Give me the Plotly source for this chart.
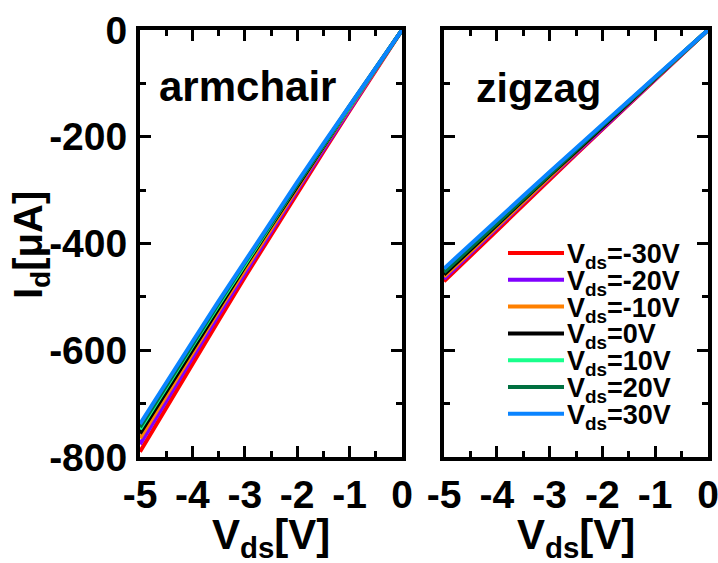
import plotly.graph_objects as go

# ---------------- data ----------------
vds = [-5.0, -4.5, -4.0, -3.5, -3.0, -2.5, -2.0, -1.5, -1.0, -0.5, 0.0]

series_names = ["V<sub>ds</sub>=-30V", "V<sub>ds</sub>=-20V", "V<sub>ds</sub>=-10V",
                "V<sub>ds</sub>=0V", "V<sub>ds</sub>=10V", "V<sub>ds</sub>=20V",
                "V<sub>ds</sub>=30V"]
series_colors = ["#FF0000", "#8000FF", "#FF8000", "#000000", "#19FF8C", "#007040", "#0A84FF"]

# armchair I_d [uA]
arm_m30 = [-790, -707, -625, -544, -463, -384, -305, -228, -151, -75, 0]
arm_m20 = [-776, -694, -614, -534, -455, -377, -300, -224, -148, -74, 0]
arm_m10 = [-765, -685, -605, -526, -449, -372, -296, -220, -146, -73, 0]
arm_0   = [-756, -677, -598, -520, -443, -367, -292, -218, -144, -72, 0]
arm_p10 = [-748, -669, -592, -515, -439, -364, -289, -216, -143, -71, 0]
arm_p20 = [-744, -666, -589, -512, -436, -362, -288, -214, -142, -71, 0]
arm_p30 = [-738, -660, -584, -508, -433, -359, -285, -213, -141, -70, 0]

# zigzag I_d [uA]
zig_m30 = [-471, -423, -375, -327, -280, -233, -186, -139, -93, -46, 0]
zig_m20 = [-466, -418, -371, -324, -277, -231, -184, -138, -92, -46, 0]
zig_m10 = [-462, -415, -368, -321, -274, -229, -182, -137, -91, -45, 0]
zig_0   = [-458, -411, -365, -318, -272, -227, -181, -136, -90, -45, 0]
zig_p10 = [-450, -404, -358, -313, -267, -223, -178, -133, -89, -44, 0]
zig_p20 = [-454, -408, -361, -316, -270, -225, -179, -134, -89, -44, 0]
zig_p30 = [-447, -401, -356, -311, -266, -221, -177, -132, -88, -44, 0]

arm_series = [arm_m30, arm_m20, arm_m10, arm_0, arm_p10, arm_p20, arm_p30]
zig_series = [zig_m30, zig_m20, zig_m10, zig_0, zig_p10, zig_p20, zig_p30]

x_tickvals = [-5, -4, -3, -2, -1, 0]
x_ticktext = ["-5", "-4", "-3", "-2", "-1", "0"]
y_tickvals = [-800, -600, -400, -200, 0]
y_ticktext = ["-800", "-600", "-400", "-200", "0"]

# ---------------- layout constants (pixels) ----------------
W, H = 718, 563
FONT = "Arial, Liberation Sans, sans-serif"
def px(x):
    return x / W
def py(y):
    return 1 - y / H

L1, R1 = 140, 402
L2, R2 = 444, 708
TOP, BOT = 30, 457

fig = go.Figure()
for vals, name, col in zip(arm_series, series_names, series_colors):
    fig.add_trace(go.Scatter(x=vds, y=vals, mode="lines", name=name,
                             line=dict(color=col, width=4), xaxis="x", yaxis="y",
                             showlegend=False))
for vals, name, col in zip(zig_series, series_names, series_colors):
    fig.add_trace(go.Scatter(x=vds, y=vals, mode="lines", name=name,
                             line=dict(color=col, width=4), xaxis="x2", yaxis="y2",
                             showlegend=False))

tickfont = dict(family=FONT, size=39, color="black", weight="bold")
common = dict(showline=True, linewidth=4, linecolor="black", mirror="allticks",
              ticks="inside", ticklen=11, tickwidth=3, tickcolor="black",
              showgrid=False, zeroline=False, tickfont=tickfont, fixedrange=True,
              automargin=False, ticklabeloverflow="allow")

xcommon = dict(common, range=[-5, 0], tickvals=x_tickvals, ticktext=x_ticktext,
               minor=dict(dtick=0.5, tick0=0, ticks="inside", ticklen=6, tickwidth=3,
                          tickcolor="black", showgrid=False),
               ticklabelstandoff=0)
ycommon = dict(common, range=[-800, 0], tickvals=y_tickvals, ticktext=y_ticktext,
               minor=dict(dtick=100, tick0=0, ticks="inside", ticklen=6, tickwidth=3,
                          tickcolor="black", showgrid=False),
               ticklabelstandoff=1)

fig.update_layout(
    width=W, height=H,
    margin=dict(l=0, r=0, t=0, b=0, autoexpand=False),
    paper_bgcolor="white", plot_bgcolor="white",
    xaxis=dict(xcommon, domain=[px(L1), px(R1)], anchor="y"),
    yaxis=dict(ycommon, domain=[py(BOT), py(TOP)], anchor="x"),
    xaxis2=dict(xcommon, domain=[px(L2), px(R2)], anchor="y2"),
    yaxis2=dict(ycommon, domain=[py(BOT), py(TOP)], anchor="x2", showticklabels=False),
    showlegend=False,
)

ann = []
ann.append(dict(text="<b>armchair</b>", x=px(157), y=py(86), xref="paper", yref="paper",
                xanchor="left", yanchor="middle", showarrow=False,
                font=dict(family=FONT, size=42, color="black")))
ann.append(dict(text="<b>zigzag</b>", x=px(474), y=py(88), xref="paper", yref="paper",
                xanchor="left", yanchor="middle", showarrow=False,
                font=dict(family=FONT, size=41, color="black")))
ann.append(dict(text="<b>I<sub>d</sub>[μA]</b>", x=px(31), y=py(245), xref="paper", yref="paper",
                xanchor="center", yanchor="middle", showarrow=False, textangle=-90,
                font=dict(family=FONT, size=40, color="black")))
for cx in [(L1 + R1) / 2, (L2 + R2) / 2]:
    ann.append(dict(text="<b>V<sub>ds</sub>[V]</b>", x=px(cx), y=py(537), xref="paper", yref="paper",
                    xanchor="center", yanchor="middle", showarrow=False,
                    font=dict(family=FONT, size=42, color="black")))

# manual legend (compact rows like the original)
shapes = []
row0, dy = 253, 26.8
for i, (name, col) in enumerate(zip(series_names, series_colors)):
    yrow = row0 + dy * i
    shapes.append(dict(type="line", xref="paper", yref="paper",
                       x0=px(508), x1=px(564), y0=py(yrow), y1=py(yrow),
                       line=dict(color=col, width=4)))
    ann.append(dict(text="<b>" + name + "</b>", x=px(565), y=py(yrow + 3), xref="paper", yref="paper",
                    xanchor="left", yanchor="middle", showarrow=False,
                    font=dict(family=FONT, size=27, color="black")))

fig.update_layout(annotations=ann, shapes=shapes)
fig.write_html("out.html")
